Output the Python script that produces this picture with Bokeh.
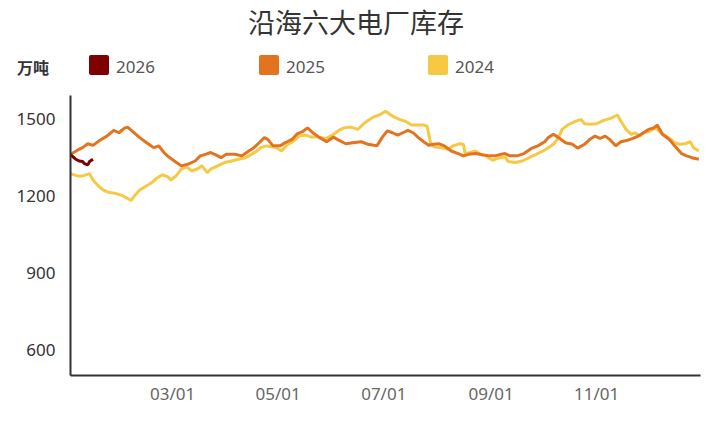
from bokeh.plotting import figure
from bokeh.models import Range1d, FixedTicker, Div
from bokeh.layouts import column
from bokeh.embed import file_html
from bokeh.resources import INLINE

title_text = "沿海六大电厂库存"
unit_text = "万吨"
series_names = ["2026", "2025", "2024"]
series_colors = ["#7f0000", "#e3731e", "#f6c844"]
tick_days = [59, 120, 181, 243, 304]
tick_labels = ["03/01", "05/01", "07/01", "09/01", "11/01"]
y_ticks = [600, 900, 1200, 1500]

# day of year (0 = Jan 1) and stock (10k tonnes)
days_2026 = [0, 3, 5, 7, 8, 10, 11, 13]
vals_2026 = [1360, 1342, 1335, 1333, 1325, 1320, 1333, 1342]

days_2025 = [0, 4, 7, 10, 13, 17, 21, 25, 28, 31, 33, 36, 40, 44, 48, 51, 54, 56, 60, 64,
             68, 72, 75, 78, 81, 84, 87, 90, 95, 99, 103, 106, 109, 112, 114, 117, 121, 124,
             128, 131, 134, 137, 140, 144, 148, 152, 155, 159, 163, 168, 172, 177, 180, 183,
             186, 189, 192, 195, 198, 201, 204, 207, 210, 213, 216, 220, 224, 227, 230, 234,
             238, 242, 245, 249, 251, 254, 258, 262, 266, 270, 274, 276, 279, 282, 286, 290,
             293, 297, 300, 303, 306, 309, 312, 315, 318, 322, 325, 328, 331, 334, 337, 339,
             342, 346, 349, 353, 356, 359, 363]
vals_2025 = [1361, 1377, 1387, 1402, 1396, 1416, 1432, 1454, 1445, 1462, 1467, 1449, 1426, 1406,
             1387, 1394, 1368, 1355, 1335, 1316, 1323, 1335, 1355, 1361, 1368, 1359, 1348, 1361,
             1361, 1355, 1374, 1387, 1406, 1426, 1419, 1394, 1394, 1406, 1419, 1441, 1449, 1464,
             1445, 1426, 1410, 1428, 1416, 1402, 1406, 1410, 1400, 1394, 1426, 1452, 1445, 1436,
             1445, 1454, 1445, 1426, 1410, 1396, 1400, 1402, 1394, 1374, 1364, 1355, 1361, 1364,
             1359, 1355, 1355, 1361, 1364, 1355, 1355, 1364, 1383, 1394, 1410, 1426, 1439, 1426,
             1406, 1400, 1385, 1400, 1419, 1432, 1423, 1432, 1416, 1394, 1410, 1416, 1423, 1432,
             1445, 1458, 1464, 1475, 1439, 1419, 1394, 1364, 1355, 1348, 1342]

days_2024 = [0, 4, 7, 9, 11, 13, 16, 19, 22, 26, 30, 32, 35, 37, 40, 44, 47, 50, 53, 56, 58,
             61, 64, 67, 70, 73, 76, 79, 81, 85, 89, 93, 97, 101, 104, 107, 110, 113, 116, 119,
             122, 125, 129, 132, 136, 139, 143, 148, 152, 155, 158, 162, 166, 170, 175, 179,
             182, 186, 190, 194, 197, 201, 204, 206, 208, 210, 214, 218, 221, 225, 227, 228,
             231, 234, 237, 240, 242, 244, 247, 251, 253, 257, 261, 265, 269, 273, 276, 279,
             282, 284, 288, 292, 295, 297, 300, 304, 308, 312, 316, 318, 321, 324, 326, 329,
             331, 335, 338, 341, 344, 347, 349, 352, 355, 358, 360, 363]
vals_2024 = [1286, 1277, 1277, 1281, 1286, 1261, 1239, 1222, 1213, 1209, 1200, 1193, 1181, 1200,
             1222, 1239, 1251, 1269, 1281, 1274, 1261, 1277, 1303, 1312, 1297, 1303, 1316, 1290,
             1303, 1316, 1329, 1335, 1342, 1348, 1359, 1371, 1387, 1394, 1390, 1387, 1374, 1397,
             1413, 1432, 1436, 1428, 1428, 1423, 1439, 1454, 1464, 1467, 1458, 1484, 1506, 1516,
             1529, 1510, 1497, 1488, 1475, 1475, 1475, 1471, 1406, 1390, 1387, 1381, 1394, 1402,
             1400, 1364, 1368, 1374, 1361, 1355, 1346, 1338, 1346, 1351, 1333, 1329, 1335, 1348,
             1361, 1374, 1387, 1400, 1426, 1458, 1478, 1490, 1497, 1480, 1478, 1480, 1493, 1501,
             1514, 1490, 1458, 1439, 1445, 1432, 1445, 1452, 1464, 1445, 1432, 1419, 1406, 1400,
             1402, 1410, 1387, 1374]

CJK = "Noto Sans CJK SC"
NUM = "Noto Sans"

# ---- header (title + legend) ----
legend_left = [89, 259, 428]
parts = [
    '<div style="position:relative;width:708px;height:95px;">',
    f'<div style="position:absolute;left:248px;top:8px;line-height:28px;font-size:27px;'
    f'font-family:\'{CJK}\';color:#333;white-space:nowrap;">{title_text}</div>',
    f'<div style="position:absolute;left:17px;top:57px;line-height:20px;font-size:16px;'
    f'font-weight:bold;font-family:\'{CJK}\';color:#333;white-space:nowrap;">{unit_text}</div>',
]
for lx, name, col in zip(legend_left, series_names, series_colors):
    parts.append(f'<div style="position:absolute;left:{lx}px;top:55px;width:20px;height:20px;'
                 f'border-radius:2px;background:{col};"></div>')
    parts.append(f'<div style="position:absolute;left:{lx + 27}px;top:56px;line-height:22px;'
                 f'font-size:17px;font-family:\'{NUM}\';color:#555;white-space:nowrap;">{name}</div>')
parts.append('</div>')
header = Div(text="".join(parts), width=708, height=95, margin=0)

# ---- chart ----
p = figure(width=708, height=318, output_backend="svg", toolbar_location=None, title=None,
           x_range=Range1d(0, 364), y_range=Range1d(500, 1590),
           min_border_left=70, min_border_right=8, min_border_top=0, min_border_bottom=38)
p.outline_line_color = None
p.xgrid.visible = False
p.ygrid.visible = False

p.line(days_2024, vals_2024, color=series_colors[2], line_width=3)
p.line(days_2025, vals_2025, color=series_colors[1], line_width=3)
p.line(days_2026, vals_2026, color=series_colors[0], line_width=3)

p.xaxis.ticker = FixedTicker(ticks=tick_days)
p.xaxis.major_label_overrides = {d: l for d, l in zip(tick_days, tick_labels)}
p.yaxis.ticker = FixedTicker(ticks=y_ticks)
for ax in (p.xaxis, p.yaxis):
    ax.axis_line_color = "#333333"
    ax.axis_line_width = 2
    ax.major_tick_line_color = None
    ax.minor_tick_line_color = None
    ax.major_label_text_font = NUM
    ax.major_label_text_font_size = "17px"
p.xaxis.major_label_standoff = 0
p.yaxis.major_label_standoff = 9
p.xaxis.major_label_text_color = "#666666"
p.yaxis.major_label_text_color = "#333333"

layout = column(header, p, spacing=0)
open("out.html", "w").write(file_html(layout, INLINE))
